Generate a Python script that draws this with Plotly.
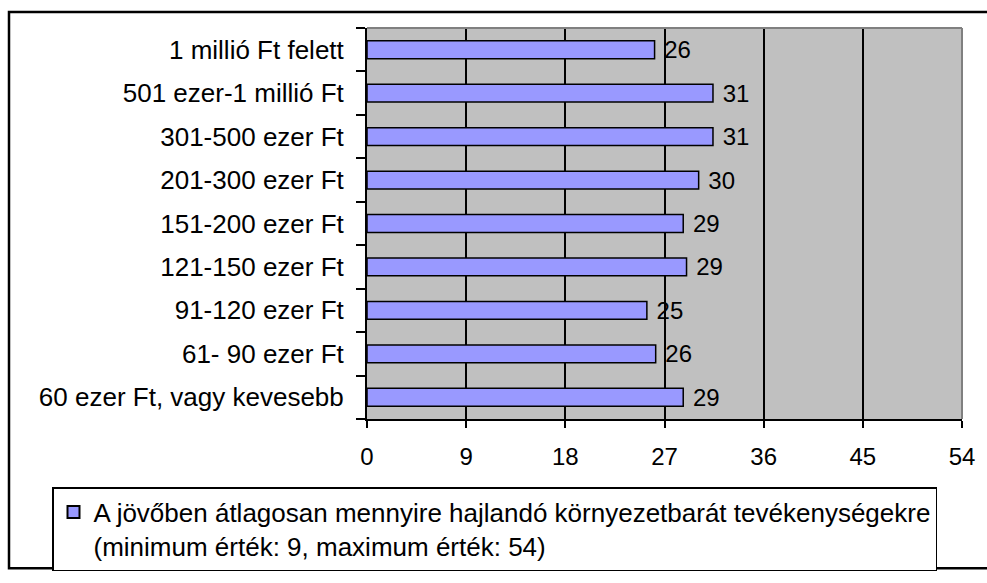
import plotly.graph_objects as go

categories = [
    "60 ezer Ft, vagy kevesebb",
    "61- 90 ezer Ft",
    "91-120 ezer Ft",
    "121-150 ezer Ft",
    "151-200 ezer Ft",
    "201-300 ezer Ft",
    "301-500 ezer Ft",
    "501 ezer-1 millió Ft",
    "1 millió Ft felett",
]
values = [28.7, 26.2, 25.4, 29.0, 28.7, 30.1, 31.4, 31.4, 26.1]
x_ticks = [0, 9, 18, 27, 36, 45, 54]
series_name = ("A jövőben átlagosan mennyire hajlandó környezetbarát tevékenységekre<br>"
               "(minimum érték: 9, maximum érték: 54)")

FONT = "Liberation Sans, Arial, sans-serif"

fig = go.Figure()
fig.add_trace(go.Bar(
    y=categories,
    x=values,
    orientation="h",
    name=series_name,
    marker=dict(color="#9999FF", line=dict(color="black", width=1.5)),
    width=0.41,
    text=["\u00a0" + f"{v:.0f}" for v in values],
    textposition="outside",
    textfont=dict(family=FONT, size=24, color="black"),
    constraintext="none",
    cliponaxis=False,
    showlegend=True,
))

W, H = 987, 583
L, R, T, B = 367, 25, 28, 141
pw = W - L - R
ph = H - T - B

def px_x(x):
    return (x - L) / pw

def px_y(y):
    return (H - B - y) / ph

fig.update_layout(
    width=W, height=H,
    margin=dict(l=L, r=R, t=T, b=B, pad=0),
    paper_bgcolor="white",
    plot_bgcolor="#C0C0C0",
    font=dict(family=FONT, size=25, color="black"),
    showlegend=True,
    legend=dict(
        x=px_x(52), y=px_y(514), xanchor="left", yanchor="top",
        bgcolor="white", bordercolor="black", borderwidth=1.5,
        font=dict(family=FONT, size=26, color="black"),
        valign="top",
        itemsizing="constant",
    ),
    xaxis=dict(
        range=[0, 54], tickvals=x_ticks, ticktext=[str(v) for v in x_ticks],
        showgrid=True, gridcolor="black", gridwidth=1.5,
        zeroline=False,
        showline=True, linecolor="black", linewidth=2,
        ticks="outside", ticklen=7, tickwidth=2, tickcolor="black",
        tickfont=dict(family=FONT, size=24, color="black"),
        ticklabelstandoff=8,
        fixedrange=True,
    ),
    yaxis=dict(
        type="category", categoryorder="array", categoryarray=categories,
        showgrid=False, zeroline=False,
        showline=True, linecolor="black", linewidth=2,
        ticks="outside", ticklen=9, tickwidth=2, tickcolor="black",
        tickson="boundaries",
        tickfont=dict(family=FONT, size=26, color="black"),
        ticklabelstandoff=16,
        fixedrange=True,
    ),
    shapes=[
        # outer chart frame
        dict(type="rect", xref="paper", yref="paper",
             x0=px_x(9), x1=px_x(1000), y0=px_y(600), y1=px_y(11),
             line=dict(color="black", width=2.5), fillcolor="rgba(0,0,0,0)", layer="below"),
        # gray top and right plot border
        dict(type="line", xref="paper", yref="paper", x0=0, x1=1, y0=1, y1=1,
             line=dict(color="#808080", width=2), layer="above"),
        dict(type="line", xref="paper", yref="paper", x0=1, x1=1, y0=0, y1=1,
             line=dict(color="#808080", width=2), layer="above"),
    ],
)

fig.write_html("out.html", config={"displayModeBar": False},
               post_script="document.body.style.margin='0';document.body.style.overflow='hidden';")
